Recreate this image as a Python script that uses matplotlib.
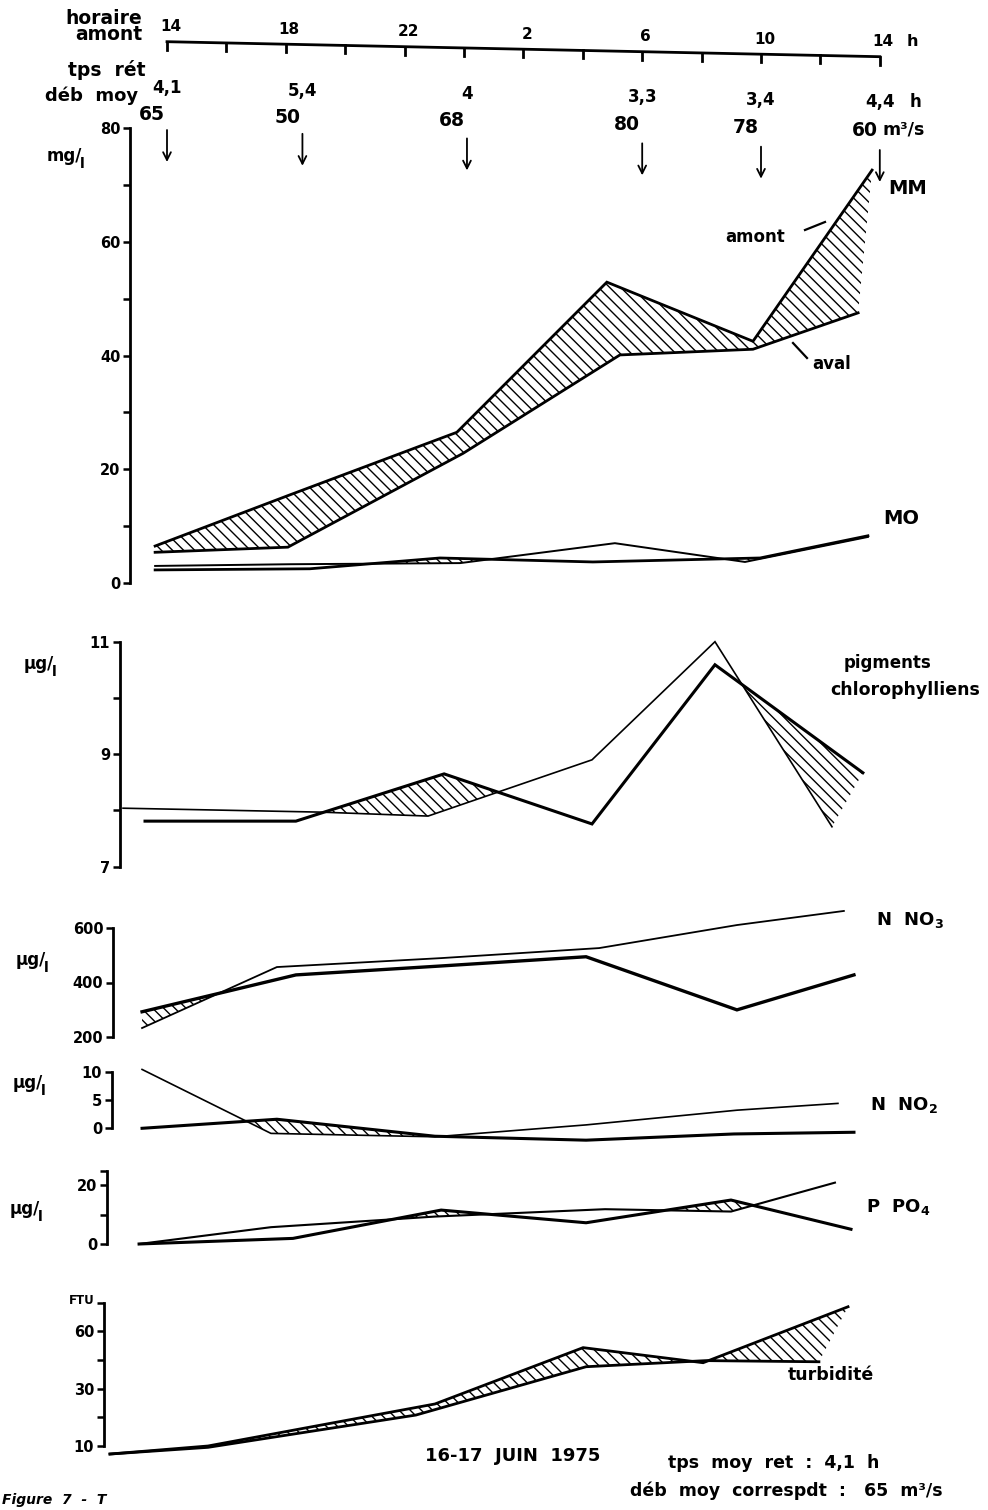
import numpy as np
import matplotlib
matplotlib.use("Agg")
import matplotlib.pyplot as plt

# ---------------------------------------------------------------- data
# sampling times (hours after 14 h on 16 June) and header annotations
sample_hours = [0.0, 4.56, 10.1, 16.0, 20.0, 24.0]
tps_ret = ['4,1', '5,4', '4', '3,3', '3,4', '4,4']
deb_moy = ['65', '50', '68', '80', '78', '60']
clock_ticks = [0, 4, 8, 12, 16, 20, 24]
clock_labels = ['14', '18', '22', '2', '6', '10', '14']

# MM (matières minérales, mg/l)
mm_amont_t = [-0.40, 4.14, 9.76, 14.81, 19.73, 23.74]
mm_amont_v = [6.5, 15.5, 26.5, 52.9, 42.5, 72.6]
mm_aval_t = [-0.40, 4.07, 9.97, 15.25, 19.73, 23.27]
mm_aval_v = [5.4, 6.3, 22.8, 40.1, 41.1, 47.5]

# MO (matières organiques, mg/l)
mo_amont_t = [-0.40, 4.81, 9.19, 14.34, 19.97, 23.60]
mo_amont_v = [2.3, 2.5, 4.4, 3.7, 4.4, 8.3]
mo_aval_t = [-0.40, 4.14, 9.87, 15.08, 19.46, 23.60]
mo_aval_v = [3.0, 3.3, 3.5, 7.0, 3.7, 8.1]

# pigments chlorophylliens (µg/l)
pig_amont_t = [-0.74, 4.34, 9.33, 14.31, 18.45, 23.43]
pig_amont_v = [7.81, 7.81, 8.65, 7.76, 10.59, 8.67]
pig_aval_t = [-1.48, 5.19, 8.79, 14.31, 18.45, 22.39]
pig_aval_v = [8.04, 7.97, 7.90, 8.90, 11.0, 7.71]

# N NO3 (µg/l)
no3_amont_t = [-0.84, 4.34, 9.23, 14.11, 19.19, 23.13]
no3_amont_v = [292, 428, 461, 495, 299, 428]
no3_aval_t = [-0.84, 3.70, 9.23, 14.55, 19.19, 22.79]
no3_aval_v = [232, 457, 490, 527, 612, 664]

# N NO2 (µg/l)
no2_amont_t = [-0.84, 3.70, 9.02, 14.11, 19.09, 23.13]
no2_amont_v = [0.0, 1.6, -1.4, -2.1, -1.0, -0.7]
no2_aval_t = [-0.84, 3.50, 9.02, 14.11, 19.19, 22.59]
no2_aval_v = [10.4, -0.9, -1.5, 0.6, 3.2, 4.4]

# P PO4 (µg/l)
po4_amont_t = [-0.94, 4.24, 9.23, 14.11, 18.99, 23.03]
po4_amont_v = [0.0, 1.9, 11.5, 7.2, 14.9, 5.0]
po4_aval_t = [-0.94, 3.50, 9.02, 14.75, 18.99, 22.49]
po4_aval_v = [0.0, 5.7, 9.3, 11.8, 11.0, 20.8]

# turbidité (FTU, axis as drawn)
tur_amont_t = [-1.92, 1.38, 9.02, 14.01, 18.05, 22.93]
tur_amont_v = [-4.2, 0.0, 22.0, 51.5, 43.6, 72.9]
tur_aval_t = [-1.92, 1.38, 8.38, 14.11, 18.15, 21.95]
tur_aval_v = [-4.2, -0.7, 16.2, 41.5, 44.7, 44.1]

# ---------------------------------------------------------------- layout
W, H, DPI = 988, 1510, 100
PX_H = 29.7          # pixels per hour
X14 = 167            # pixel of 14 h


def px2h(px):
    return (px - X14) / PX_H


XLIM = (px2h(0), px2h(W))

plt.rcParams['font.family'] = ['DejaVu Sans']
plt.rcParams['font.weight'] = 'bold'
plt.rcParams['hatch.linewidth'] = 1.0
plt.rcParams['mathtext.default'] = 'bf'

fig = plt.figure(figsize=(W / DPI, H / DPI), dpi=DPI)
fig.patch.set_facecolor('white')


def make_panel(top_px, bot_px, ref1, ref2, spine_px, bounds, ticks, labels,
               fs=10.5):
    (p1, v1), (p2, v2) = ref1, ref2
    ppu = (p2 - p1) / (v1 - v2)
    ylo = v2 - (bot_px - p2) / ppu
    yhi = v1 + (p1 - top_px) / ppu
    ax = fig.add_axes([0, 1 - bot_px / H, 1, (bot_px - top_px) / H])
    ax.set_facecolor('none')
    ax.set_xlim(*XLIM)
    ax.set_ylim(ylo, yhi)
    for s in ['top', 'right', 'bottom']:
        ax.spines[s].set_visible(False)
    ax.spines['left'].set_position(('data', px2h(spine_px)))
    ax.spines['left'].set_bounds(*bounds)
    ax.spines['left'].set_linewidth(2.0)
    ax.set_xticks([])
    ax.set_yticks(ticks)
    ax.set_yticklabels(labels)
    ax.tick_params(axis='y', direction='out', length=5, width=1.8,
                   labelsize=fs, pad=2)
    return ax


def extend(ta, va, tb, vb):
    ta, va, tb, vb = list(ta), list(va), list(tb), list(vb)
    if ta[0] > tb[0]:
        ta.insert(0, tb[0]); va.insert(0, vb[0])
    elif tb[0] > ta[0]:
        tb.insert(0, ta[0]); vb.insert(0, va[0])
    if ta[-1] < tb[-1]:
        ta.append(tb[-1]); va.append(vb[-1])
    elif tb[-1] < ta[-1]:
        tb.append(ta[-1]); vb.append(va[-1])
    return ta, va, tb, vb


def pair(ax, ta, va, tb, vb, lwa, lwb):
    """amont (a) and aval (b); hatched where amont > aval."""
    ea_t, ea_v, eb_t, eb_v = extend(ta, va, tb, vb)
    g = np.linspace(min(ea_t[0], eb_t[0]), max(ea_t[-1], eb_t[-1]), 1500)
    A = np.interp(g, ea_t, ea_v)
    B = np.interp(g, eb_t, eb_v)
    ax.fill_between(g, A, B, where=A > B, interpolate=True,
                    facecolor='none', edgecolor='black', hatch='\\\\\\',
                    linewidth=0)
    ax.plot(tb, vb, color='black', lw=lwb, solid_joinstyle='miter',
            clip_on=False)
    ax.plot(ta, va, color='black', lw=lwa, solid_joinstyle='miter',
            clip_on=False)


# MM / MO panel
ax1 = make_panel(100, 600, (128, 80), (583, 0), 130, (0, 80),
                 list(range(0, 81, 10)),
                 [str(v) if v % 20 == 0 else '' for v in range(0, 81, 10)],
                 fs=10.5)
pair(ax1, mm_amont_t, mm_amont_v, mm_aval_t, mm_aval_v, 2.0, 2.0)
pair(ax1, mo_amont_t, mo_amont_v, mo_aval_t, mo_aval_v, 2.0, 1.4)

# pigments
ax2 = make_panel(620, 885, (641.7, 11), (866.7, 7), 120, (7, 11),
                 [7, 8, 9, 10, 11], ['7', '', '9', '', '11'])
pair(ax2, pig_amont_t, pig_amont_v, pig_aval_t, pig_aval_v, 2.2, 1.2)

# NO3
ax3 = make_panel(900, 1048, (928.3, 600), (1036.7, 200), 113, (200, 600),
                 [200, 400, 600], ['200', '400', '600'])
pair(ax3, no3_amont_t, no3_amont_v, no3_aval_t, no3_aval_v, 2.4, 1.3)

# NO2
ax4 = make_panel(1052, 1150, (1071.7, 10), (1128.3, 0), 112, (0, 10),
                 [0, 5, 10], ['0', '5', '10'])
pair(ax4, no2_amont_t, no2_amont_v, no2_aval_t, no2_aval_v, 2.2, 1.2)

# PO4
ax5 = make_panel(1160, 1262, (1185, 20), (1244, 0), 107, (0, 24.7),
                 [0, 10, 20, 24.7], ['0', '', '20', ''])
pair(ax5, po4_amont_t, po4_amont_v, po4_aval_t, po4_aval_v, 2.2, 1.5)

# turbidity
ax6 = make_panel(1290, 1468, (1331.4, 60), (1446, 0), 104, (0, 75),
                 [0, 15, 30, 45, 60, 75], ['10', '', '30', '', '60', ''])
pair(ax6, tur_amont_t, tur_amont_v, tur_aval_t, tur_aval_v, 2.0, 2.0)

# ---------------------------------------------------------------- overlay
ov = fig.add_axes([0, 0, 1, 1])
ov.set_facecolor('none')
ov.set_xlim(*XLIM)
ov.set_ylim(H, 0)
ov.axis('off')


def T(x, y, s, **kw):
    kw.setdefault('fontsize', 12)
    kw.setdefault('va', 'center')
    return ov.text(px2h(x), y, s, **kw)


def line_y(h):
    return 41.7 + 15.0 * h / 24.0


# clock axis ("horaire amont")
ov.plot([0, 24], [line_y(0), line_y(24)], color='k', lw=2.0)
for h in range(0, 25, 2):
    ov.plot([h, h], [line_y(h), line_y(h) + 8], color='k', lw=2.0)
for h, lab in zip(clock_ticks, clock_labels):
    ov.text(h + 0.12, line_y(h) - 15, lab, ha='center', va='center',
            fontsize=11)
T(907, line_y(24) - 15, 'h', ha='left', fontsize=11.5)

T(142, 18, 'horaire', ha='right', fontsize=13.5)
T(142, 35, 'amont', ha='right', fontsize=13.5)
T(145, 70, 'tps  rét', ha='right', fontsize=13.5)
T(138, 96, 'déb  moy', ha='right', fontsize=13)

# arrows with residence time and mean discharge
for h, tr, dm in zip(sample_hours, tps_ret, deb_moy):
    yt = 130 + 20 * h / 24
    ov.annotate('', xy=(h, yt + 32), xytext=(h, yt),
                arrowprops=dict(arrowstyle='->', color='k', lw=1.3,
                                mutation_scale=14, shrinkA=0, shrinkB=0))
    ov.text(h, 88 + 14 * h / 24, tr, ha='center', va='center', fontsize=12)
    ov.text(h - 0.5, 114 + 16 * h / 24, dm, ha='center', va='center',
            fontsize=13.5)
T(910, 102, 'h', ha='left', fontsize=12)
T(883, 130, 'm³/s', ha='left', fontsize=12.5)


def unit(x, y, main, fs=12):
    t = T(x, y, main + '/', ha='left', fontsize=fs)
    ov.annotate('l', xy=(0.93, 0.05), xycoords=t, ha='left', va='center',
                fontsize=fs * 0.85)


unit(47, 156, 'mg')
unit(24, 664, 'µg')
unit(16, 960, 'µg')
unit(13, 1083, 'µg')
unit(10, 1209, 'µg')
T(95, 1301, 'FTU', ha='right', fontsize=8.5)

# right-hand labels
T(888, 189, 'MM', ha='left', fontsize=14)
T(883, 519, 'MO', ha='left', fontsize=14)
T(725, 237, 'amont', ha='left', fontsize=12)
T(812, 364, 'aval', ha='left', fontsize=12)
ov.plot([px2h(805), px2h(825)], [230, 222], color='k', lw=1.6)
ov.plot([px2h(793), px2h(807)], [343, 358], color='k', lw=1.6)
T(887, 663, 'pigments', ha='center', fontsize=12)
T(980, 690, 'chlorophylliens', ha='right', fontsize=12.5)
T(876, 920, 'N  NO$_3$', ha='left', fontsize=13)
T(870, 1105, 'N  NO$_2$', ha='left', fontsize=13)
T(866, 1207, 'P  PO$_4$', ha='left', fontsize=13)
T(788, 1375, 'turbidité', ha='left', fontsize=12.5)
T(425, 1456, '16-17  JUIN  1975', ha='left', fontsize=13)
T(668, 1463, 'tps  moy  ret  :  4,1  h', ha='left', fontsize=12.5)
T(630, 1491, 'déb  moy  correspdt  :   65  m³/s', ha='left', fontsize=12.5)
T(2, 1507, 'Figure  7  -  T', ha='left', va='bottom', fontsize=10,
  style='italic')

fig.savefig('out.png', dpi=DPI, facecolor='white')
